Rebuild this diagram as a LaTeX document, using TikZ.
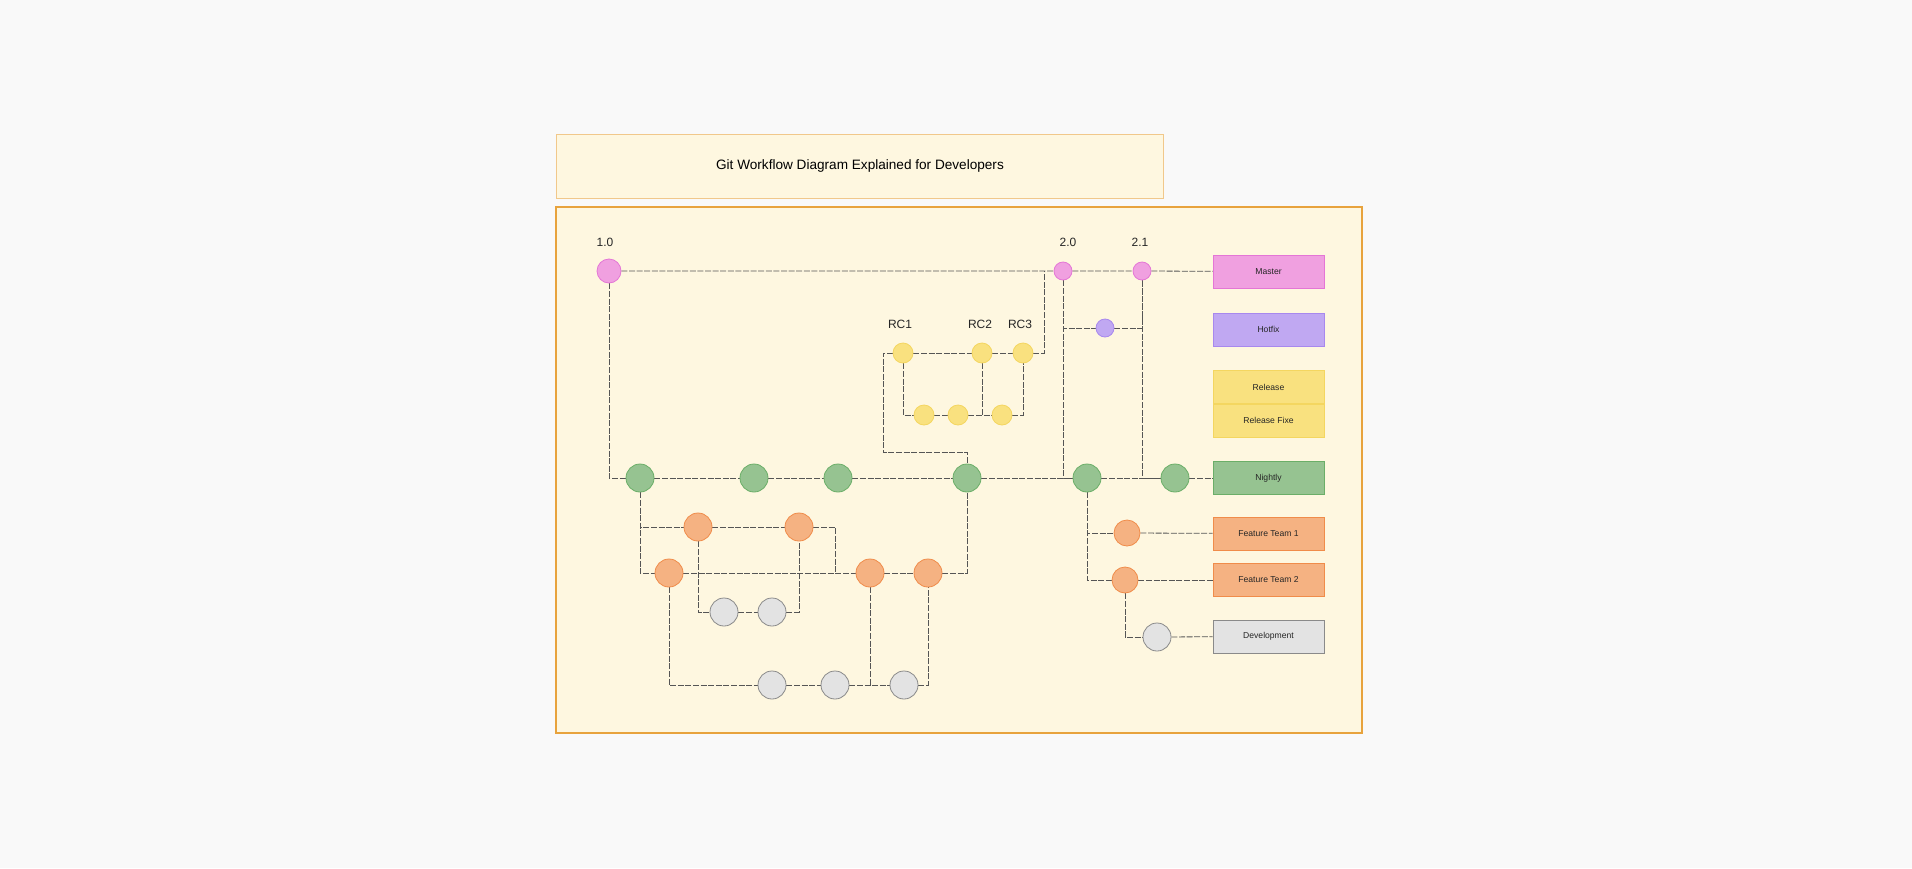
\documentclass[tikz,border=0pt]{standalone}
\usepackage{fontspec}
\setmainfont{Liberation Sans}
\pgfdeclarelayer{bgA}
\pgfdeclarelayer{bgB}
\pgfsetlayers{bgA,bgB,main}
\definecolor{pageBg}{HTML}{F9F9F9}
\definecolor{frameFill}{HTML}{FEF7E0}
\definecolor{frameLine}{HTML}{E8A33D}
\definecolor{pinkF}{HTML}{F0A0E0}\definecolor{pinkD}{HTML}{E476D6}
\definecolor{purF}{HTML}{C0A8F2}\definecolor{purD}{HTML}{A888EE}
\definecolor{yelF}{HTML}{F9E17F}\definecolor{yelD}{HTML}{F4D660}
\definecolor{grnF}{HTML}{96C391}\definecolor{grnD}{HTML}{6BAE68}
\definecolor{orF}{HTML}{F5B282}\definecolor{orD}{HTML}{F08C4A}
\definecolor{grF}{HTML}{E3E3E3}\definecolor{grD}{HTML}{8A8A8A}
\definecolor{lnC}{HTML}{555555}
\tikzset{
  commit/.style={circle,inner sep=0pt,line width=0.4pt},
  pk/.style={commit,fill=pinkF,draw=pinkD},
  pu/.style={commit,fill=purF,draw=purD},
  ye/.style={commit,fill=yelF,draw=yelD,minimum size=10pt},
  gn/.style={commit,fill=grnF,draw=grnD,minimum size=14pt},
  orr/.style={commit,fill=orF,draw=orD,minimum size=14pt},
  gy/.style={commit,fill=grF,draw=grD,minimum size=14pt},
  lg/.style={rectangle,minimum width=55.5pt,minimum height=16.5pt,inner sep=0pt,line width=0.5pt,font=\fontsize{4.3}{5}\selectfont,text=black!85},
  ln/.style={draw=lnC,line width=0.4pt,dash pattern=on 3pt off 0.8pt},
  lab/.style={font=\fontsize{6}{7}\selectfont,text=black!85}
}
\begin{document}
\begin{tikzpicture}[x=0.5pt,y=-0.5pt]
\begin{pgfonlayer}{bgA}
\fill[pageBg] (0,0) rectangle (1912,868);
\draw[draw=frameLine!60,fill=frameFill,line width=0.5pt] (556,134) rectangle (1163,198);
\draw[draw=frameLine,fill=frameFill,line width=1.4pt] (556,207) rectangle (1362,733);
\end{pgfonlayer}
\useasboundingbox (0,0) rectangle (1912,868);
\node[font=\fontsize{6.8}{8}\selectfont] (title) at (860,166) {Git Workflow Diagram Explained for Developers};
% master
\node[pk,minimum size=12pt] (v10) at (609,271) {};
\node[pk,minimum size=9pt] (v20) at (1063,271) {};
\node[pk,minimum size=9pt] (v21) at (1142,271) {};
\node[lab,anchor=south] (l10) at (605,254) {1.0};
\node[lab,anchor=south] (l20) at (1068,254) {2.0};
\node[lab,anchor=south] (l21) at (1140,254) {2.1};
\node[pu,minimum size=9pt] (hf) at (1105,328) {};
% release
\node[ye] (rc1) at (903,353) {};
\node[ye] (rc2) at (982,353) {};
\node[ye] (rc3) at (1023,353) {};
\node[lab,anchor=south] (lr1) at (900,336) {RC1};
\node[lab,anchor=south] (lr2) at (980,336) {RC2};
\node[lab,anchor=south] (lr3) at (1020,336) {RC3};
\node[ye] (f1) at (924,415) {};
\node[ye] (f2) at (958,415) {};
\node[ye] (f3) at (1002,415) {};
% nightly
\node[gn] (g1) at (640,478) {};
\node[gn] (g2) at (754,478) {};
\node[gn] (g3) at (838,478) {};
\node[gn] (g4) at (967,478) {};
\node[gn] (g5) at (1087,478) {};
\node[gn] (g6) at (1175,478) {};
% features
\node[orr] (o1a) at (698,527) {};
\node[orr] (o1b) at (799,527) {};
\node[orr] (o2a) at (669,573) {};
\node[orr] (o2b) at (870,573) {};
\node[orr] (o2c) at (928,573) {};
\node[gy] (ga1) at (724,612) {};
\node[gy] (ga2) at (772,612) {};
\node[gy] (gb1) at (772,685) {};
\node[gy] (gb2) at (835,685) {};
\node[gy] (gb3) at (904,685) {};
\node[orr,minimum size=13pt] (ft1) at (1127,533) {};
\node[orr,minimum size=13pt] (ft2) at (1125,580) {};
\node[gy] (dv) at (1157,637) {};
% legend
\node[lg,fill=pinkF,draw=pinkD] (bM) at (1268.5,271.5) {Master};
\node[lg,fill=purF,draw=purD] (bH) at (1268.5,329.5) {Hotfix};
\node[lg,fill=yelF,draw=yelD] (bR) at (1268.5,387) {Release};
\node[lg,fill=yelF,draw=yelD] (bRF) at (1268.5,420.5) {Release Fixe};
\node[lg,fill=grnF,draw=grnD] (bN) at (1268.5,478) {Nightly};
\node[lg,fill=orF,draw=orD] (bF1) at (1268.5,533.5) {Feature Team 1};
\node[lg,fill=orF,draw=orD] (bF2) at (1268.5,580) {Feature Team 2};
\node[lg,fill=grF,draw=grD] (bD) at (1268.5,636.5) {Development};
\coordinate (j1) at (1044,271);
\coordinate (j2) at (883,452);
\coordinate (j3) at (835,573);
\begin{pgfonlayer}{bgB}
\draw[ln] (v10) -- (v20) -- (v21) -- (bM);
\draw[ln] (rc3) -| (j1);
\draw[ln] (v20) |- (hf) -| (v21);
\draw[ln] (rc1) -- (rc2) -- (rc3);
\draw[ln] (rc1) |- (f1) -- (f2) -- (f3) -| (rc3);
\draw[ln] (rc2) -- (rc2|-f1);
\draw[ln] (rc1) -| (j2) -| (g4);
\draw[ln] (v10) |- (g1);
\draw[ln] (g1) -- (g2) -- (g3) -- (g4) -- (g5) -- (g6) -- (bN);
\draw[ln] (v20) |- (g5);
\draw[ln] (v21) |- (g6);
\draw[ln] (g1) |- (o1a);
\draw[ln] (g1) |- (o2a);
\draw[ln] (o1a) -- (o1b) -| (j3);
\draw[ln] (o2a) -- (o2b) -- (o2c) -| (g4);
\draw[ln] (o1a) |- (ga1);
\draw[ln] (ga1) -- (ga2) -| (o1b);
\draw[ln] (o2a) |- (gb1);
\draw[ln] (gb1) -- (gb2) -- (gb3) -| (o2c);
\draw[ln] (o2b) -- (o2b|-gb1);
\draw[ln] (g5) |- (ft1);
\draw[ln] (g5) |- (ft2);
\draw[ln] (ft2) |- (dv);
\draw[ln] (ft1) -- (bF1);
\draw[ln] (ft2) -- (bF2);
\draw[ln] (dv) -- (bD);
\end{pgfonlayer}
\end{tikzpicture}
\end{document}
